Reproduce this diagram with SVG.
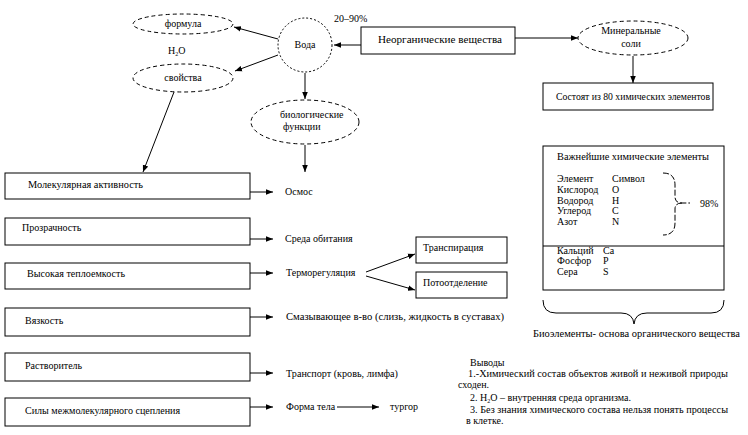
<svg xmlns="http://www.w3.org/2000/svg" width="748" height="435" viewBox="0 0 748 435">
<defs>
<marker id="ah" viewBox="0 0 10 10" refX="10" refY="5" markerWidth="7" markerHeight="7" orient="auto" markerUnits="userSpaceOnUse"><path d="M0,1 L10,5 L0,9 z" fill="#000"/></marker>
</defs>
<style>
text{font-family:"Liberation Serif","Times New Roman",serif;font-size:10px;fill:#000}
.box{fill:#fff;stroke:#000;stroke-width:1}
.ell{fill:#fff;stroke:#000;stroke-width:1;stroke-dasharray:4,3}
.circ{fill:#fff;stroke:#000;stroke-width:1;stroke-dasharray:2,2}
.ln{fill:none;stroke:#000;stroke-width:1}
.arr{fill:none;stroke:#000;stroke-width:1;marker-end:url(#ah)}
.brace{fill:none;stroke:#000;stroke-width:1}
</style>
<rect width="748" height="435" fill="#fff"/>

<g id="connectors">
<line class="arr" x1="278" y1="39" x2="234" y2="27"/>
<line class="arr" x1="278" y1="55" x2="235" y2="71"/>
<line class="arr" x1="174" y1="92" x2="143" y2="172"/>
<line class="arr" x1="361" y1="45" x2="334" y2="45"/>
<line class="arr" x1="515" y1="38" x2="578" y2="38"/>
<line class="arr" x1="633" y1="56" x2="633" y2="83"/>
<line class="arr" x1="305" y1="73" x2="305" y2="99"/>
<line class="arr" x1="305" y1="145" x2="305" y2="172"/>
<line class="arr" x1="250" y1="192" x2="273" y2="192"/>
<line class="arr" x1="250" y1="239" x2="273" y2="239"/>
<line class="arr" x1="250" y1="273" x2="273" y2="273"/>
<line class="arr" x1="250" y1="317" x2="273" y2="317"/>
<line class="arr" x1="250" y1="373" x2="273" y2="373"/>
<line class="arr" x1="250" y1="407" x2="273" y2="407"/>
<line class="arr" x1="337" y1="407" x2="379" y2="407"/>
<line class="arr" x1="366" y1="272" x2="415" y2="254"/>
<line class="arr" x1="366" y1="276" x2="415" y2="290"/>
</g>

<g id="formula"><ellipse class="ell" cx="183" cy="24" rx="50" ry="10"/><text x="183" y="27" text-anchor="middle">формула</text></g>
<g id="h2o-label"><text x="168" y="54">H<tspan font-size="6" dy="2">2</tspan><tspan dy="-2">O</tspan></text></g>
<g id="svoistva"><ellipse class="ell" cx="183" cy="78" rx="50" ry="14"/><text x="183" y="81" text-anchor="middle">свойства</text></g>
<g id="voda"><circle class="circ" cx="305" cy="45" r="27"/><text x="305" y="48" text-anchor="middle">Вода</text></g>
<g id="percent"><text x="334" y="22">20–90%</text></g>
<g id="neorg"><rect class="box" x="361" y="27" width="154" height="27"/><text x="378" y="43" textLength="124" lengthAdjust="spacingAndGlyphs">Неорганические вещества</text></g>
<g id="mineral"><ellipse class="ell" cx="633" cy="38" rx="55" ry="17"/><text x="631" y="34" text-anchor="middle">Минеральные</text><text x="631" y="47" text-anchor="middle">соли</text></g>
<g id="sostoyat"><rect class="box" x="543" y="83" width="170" height="27"/><text x="556" y="100" textLength="154" lengthAdjust="spacingAndGlyphs">Состоят из 80 химических элементов</text></g>
<g id="biofunc"><ellipse class="ell" cx="305" cy="122" rx="54" ry="22"/><text x="280" y="118">биологические</text><text x="283" y="130">функции</text></g>

<g id="box1"><rect class="box" x="5" y="173" width="245" height="26"/><text x="28" y="188" textLength="115" lengthAdjust="spacingAndGlyphs">Молекулярная активность</text></g>
<g id="osmos"><text x="285" y="195">Осмос</text></g>
<g id="box2"><rect class="box" x="5" y="218" width="245" height="27"/><text x="22" y="231">Прозрачность</text></g>
<g id="sreda"><text x="285" y="242">Среда обитания</text></g>
<g id="box3"><rect class="box" x="5" y="263" width="245" height="26"/><text x="27" y="277" textLength="98" lengthAdjust="spacingAndGlyphs">Высокая теплоемкость</text></g>
<g id="termo"><text x="286" y="276">Терморегуляция</text></g>
<g id="transpir"><rect class="box" x="416" y="237" width="91" height="26"/><text x="423" y="251">Транспирация</text></g>
<g id="potoot"><rect class="box" x="416" y="272" width="91" height="26"/><text x="423" y="286">Потоотделение</text></g>
<g id="box4"><rect class="box" x="5" y="308" width="245" height="28"/><text x="25" y="324">Вязкость</text></g>
<g id="smaz"><text x="286" y="320" textLength="218" lengthAdjust="spacingAndGlyphs">Смазывающее в-во (слизь, жидкость в суставах)</text></g>
<g id="box5"><rect class="box" x="5" y="353" width="245" height="28"/><text x="25" y="369">Растворитель</text></g>
<g id="transport"><text x="286" y="377" textLength="112" lengthAdjust="spacingAndGlyphs">Транспорт (кровь, лимфа)</text></g>
<g id="box6"><rect class="box" x="5" y="398" width="245" height="28"/><text x="25" y="414" textLength="155" lengthAdjust="spacingAndGlyphs">Силы межмолекулярного сцепления</text></g>
<g id="forma"><text x="286" y="410">Форма тела</text></g>
<g id="turgor"><text x="390" y="410">тургор</text></g>

<g id="table">
<rect class="box" x="543" y="146" width="181" height="144"/>
<line class="ln" x1="543" y1="246" x2="724" y2="246"/>
<text x="557" y="160" textLength="152" lengthAdjust="spacingAndGlyphs">Важнейшие химические элементы</text>
<text x="557" y="182">Элемент</text><text x="612" y="182">Символ</text>
<text x="557" y="193">Кислород</text><text x="612" y="193">O</text>
<text x="557" y="204">Водород</text><text x="612" y="204">H</text>
<text x="557" y="214">Углерод</text><text x="612" y="214">C</text>
<text x="557" y="225">Азот</text><text x="612" y="225">N</text>
<path class="brace" stroke-dasharray="6,2" d="M663,173 Q675,173 675,185 L675,197 Q675,203 682,203 L690,203 M682,203 Q675,203 675,209 L675,223 Q675,235 663,235"/>
<text x="700" y="207">98%</text>
<text x="557" y="254">Кальций</text><text x="603" y="254">Ca</text>
<text x="557" y="264">Фосфор</text><text x="603" y="264">P</text>
<text x="557" y="275">Сера</text><text x="603" y="275">S</text>
</g>

<g id="bioelements">
<path class="brace" d="M543,300 Q543,313 556,313 L621,313 Q633,313 634,324 Q635,313 647,313 L711,313 Q724,313 724,300"/>
<text x="533" y="337" textLength="207" lengthAdjust="spacingAndGlyphs">Биоэлементы- основа органического вещества</text>
</g>

<g id="vyvody">
<text x="470" y="366">Выводы</text>
<text x="468" y="377" textLength="260" lengthAdjust="spacingAndGlyphs">1.-Химический состав объектов живой и неживой природы</text>
<text x="458" y="388">сходен.</text>
<text x="470" y="401">2. H<tspan font-size="6" dy="2">2</tspan><tspan dy="-2">O – внутренняя среда организма.</tspan></text>
<text x="470" y="413" textLength="258" lengthAdjust="spacingAndGlyphs">3. Без знания химического состава нельзя понять процессы</text>
<text x="466" y="424">в клетке.</text>
</g>
</svg>
